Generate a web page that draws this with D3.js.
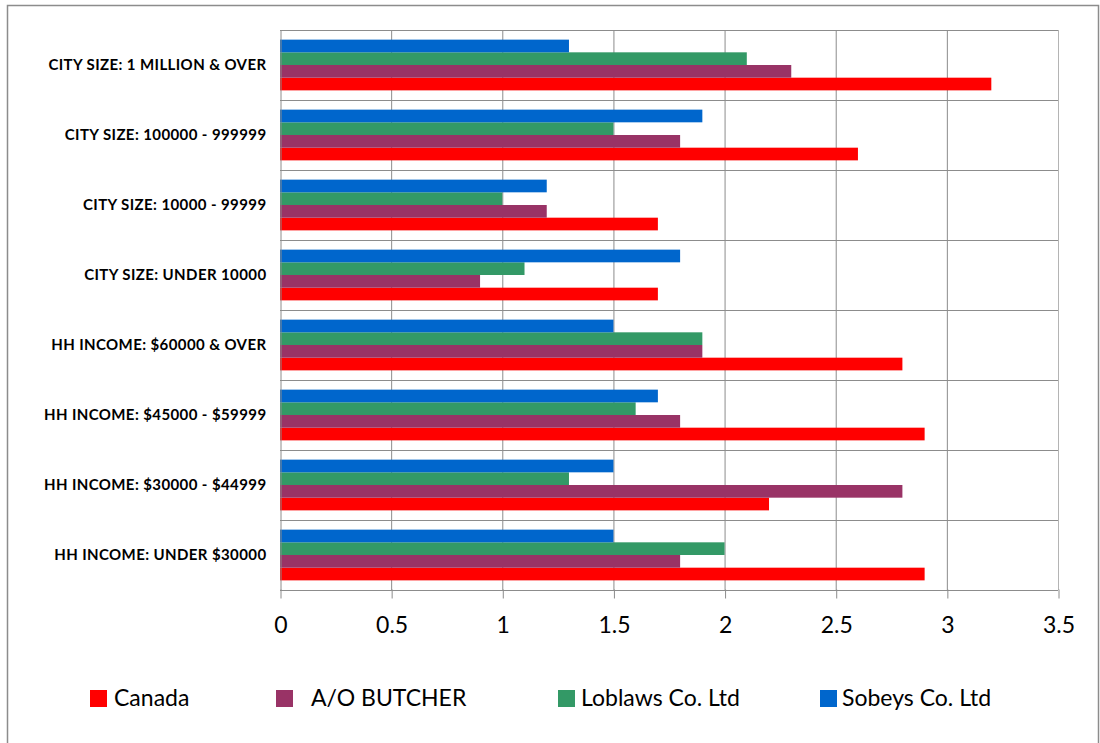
<!DOCTYPE html>
<html>
<head>
<meta charset="utf-8">
<script src="https://cdn.jsdelivr.net/npm/d3@7"></script>
<style>
  html, body { margin: 0; padding: 0; background: #fff; }
  svg { display: block; }
</style>
</head>
<body>
<svg id="chart" width="1100" height="743"></svg>
<script>
// Categories, listed top to bottom
const categories = [
  "CITY SIZE: 1 MILLION & OVER",
  "CITY SIZE: 100000 - 999999",
  "CITY SIZE: 10000 - 99999",
  "CITY SIZE: UNDER 10000",
  "HH INCOME: $60000 & OVER",
  "HH INCOME: $45000 - $59999",
  "HH INCOME: $30000 - $44999",
  "HH INCOME: UNDER $30000"
];

// Series names (legend order) and values per category
const seriesNames = ["Canada", "A/O BUTCHER", "Loblaws Co. Ltd", "Sobeys Co. Ltd"];
const canada   = [3.2, 2.6, 1.7, 1.7, 2.8, 2.9, 2.2, 2.9];
const aoButcher = [2.3, 1.8, 1.2, 0.9, 1.9, 1.8, 2.8, 1.8];
const loblaws  = [2.1, 1.5, 1.0, 1.1, 1.9, 1.6, 1.3, 2.0];
const sobeys   = [1.3, 1.9, 1.2, 1.8, 1.5, 1.7, 1.5, 1.5];
const seriesColors = ["#FF0000", "#993366", "#339966", "#0066CC"];

const xTicks = [0, 0.5, 1, 1.5, 2, 2.5, 3, 3.5];

const seriesValues = [canada, aoButcher, loblaws, sobeys];

const svg = d3.select("#chart");

// Outer chart frame
svg.append("rect")
  .attr("x", 7.5).attr("y", 5.5)
  .attr("width", 1091).attr("height", 745)
  .attr("fill", "#fff").attr("stroke", "#8c8c8c").attr("stroke-width", 1.5);

const plot = { left: 280, right: 1058, top: 30, bottom: 590 };

const x = d3.scaleLinear().domain([0, 3.5]).range([plot.left, plot.right]);
const y = d3.scaleBand().domain(categories).range([plot.top, plot.bottom]).paddingInner(0).paddingOuter(0);

// Within each category: Sobeys at top, Canada at bottom
const inner = d3.scaleBand()
  .domain(seriesNames.slice().reverse())
  .range([0, y.bandwidth()])
  .paddingOuter(0.76)
  .paddingInner(0);

const g = svg.append("g");

// Vertical gridlines
g.selectAll("line.vgrid")
  .data(xTicks.slice(1))
  .enter().append("line")
  .attr("class", "vgrid")
  .attr("x1", d => x(d) + 0.5).attr("x2", d => x(d) + 0.5)
  .attr("y1", plot.top).attr("y2", plot.bottom)
  .attr("stroke", d => d === 3.5 ? "#b4b4b4" : "#8c8c8c").attr("stroke-width", 1);

// Horizontal gridlines at category boundaries
const hLines = categories.map(c => y(c)).concat([plot.bottom]);
g.selectAll("line.hgrid")
  .data(hLines)
  .enter().append("line")
  .attr("class", "hgrid")
  .attr("x1", plot.left).attr("x2", plot.right)
  .attr("y1", d => Math.round(d) + 0.5).attr("y2", d => Math.round(d) + 0.5)
  .attr("stroke", "#8c8c8c").attr("stroke-width", 1);

// Bars
seriesNames.forEach((name, si) => {
  g.selectAll(null)
    .data(categories.map((c, i) => ({ c, v: seriesValues[si][i] })))
    .enter().append("rect")
    .attr("x", x(0))
    .attr("y", d => y(d.c) + inner(name))
    .attr("width", d => x(d.v) - x(0))
    .attr("height", inner.bandwidth())
    .attr("fill", seriesColors[si]);
});

// Category axis (left)
const yAxis = d3.axisLeft(y).tickSize(0).tickPadding(14);
const yg = svg.append("g")
  .attr("transform", `translate(${plot.left + 0.5},0)`)
  .call(yAxis);
yg.select(".domain").attr("stroke", "#8c8c8c");
yg.selectAll("text")
  .attr("font-family", "Lato, 'Open Sans', sans-serif")
  .attr("font-weight", "bold")
  .attr("font-size", 15)
  .attr("letter-spacing", 0.4)
  .attr("fill", "#000");

// Value axis (bottom)
const xAxis = d3.axisBottom(x).tickValues(xTicks).tickSize(8).tickPadding(18)
  .tickFormat(d => String(d));
const xg = svg.append("g")
  .attr("transform", `translate(0.5,${plot.bottom + 0.5})`)
  .call(xAxis);
xg.select(".domain").remove();
xg.selectAll(".tick line").attr("stroke", "#8c8c8c").attr("y1", -1);
xg.selectAll("text")
  .attr("font-family", "Lato, 'Open Sans', sans-serif")
  .attr("font-size", 23)
  .attr("fill", "#000");

// Legend
const legendItems = [
  { name: seriesNames[0], sx: 90, tx: 114 },
  { name: seriesNames[1], sx: 276, tx: 311 },
  { name: seriesNames[2], sx: 558, tx: 581 },
  { name: seriesNames[3], sx: 820, tx: 842 }
];
const lg = svg.append("g");
legendItems.forEach((it, i) => {
  lg.append("rect")
    .attr("x", it.sx).attr("y", 690)
    .attr("width", 17).attr("height", 17)
    .attr("fill", seriesColors[i]);
  lg.append("text")
    .attr("x", it.tx).attr("y", 706)
    .attr("font-family", "Lato, 'Open Sans', sans-serif")
    .attr("font-size", 23)
    .attr("fill", "#000")
    .text(it.name);
});
</script>
</body>
</html>
